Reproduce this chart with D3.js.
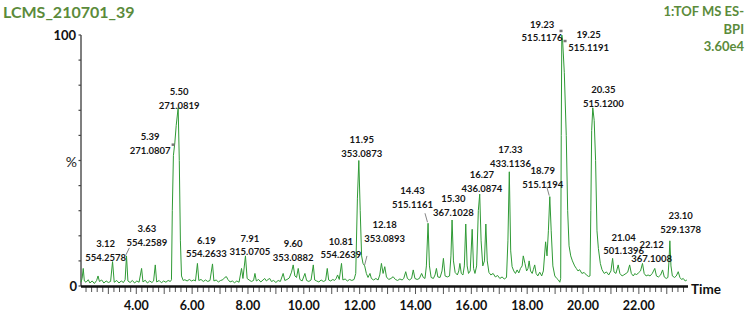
<!DOCTYPE html>
<html>
<head>
<meta charset="utf-8">
<script src="https://cdn.jsdelivr.net/npm/d3@7"></script>
<style>
	body { margin: 0; background: #fff; }
	svg { display: block; font-family: Lato, "Open Sans", sans-serif; }
</style>
</head>
<body>
<div id="chart"></div>
<script>
// Base peak intensity trace, [retention time (min), % of max]
const trace = [
	[2.02,1.5],[2.06,3],[2.10,7],[2.14,2],[2.20,1.5],[2.28,2.5],[2.34,1.2],[2.42,2],[2.50,1],[2.58,2.2],
	[2.63,4],[2.68,1.8],[2.76,2.4],[2.84,1.2],[2.92,2],[3.00,1.4],[3.08,1.8],[3.15,9.7],[3.21,1.5],[3.30,2.2],
	[3.38,1.2],[3.46,2],[3.54,1.4],[3.60,2.5],[3.65,12],[3.70,2],[3.78,1.4],[3.86,2.2],[3.94,1.2],[4.02,2],
	[4.10,1.5],[4.19,7],[4.24,1.6],[4.32,2.3],[4.40,1.2],[4.48,2],[4.56,1.4],[4.62,2],[4.68,8.4],[4.73,1.6],
	[4.82,2.2],[4.90,1.3],[4.98,2],[5.06,1.5],[5.14,2.2],[5.22,1.8],[5.26,2.5],[5.29,30],[5.33,52],[5.38,57],
	[5.43,64],[5.50,71],[5.54,50],[5.58,18],[5.62,4],[5.68,2.2],[5.74,2.5],[5.82,2],[5.90,2.6],[5.98,2],
	[6.06,2.4],[6.12,2],[6.19,9],[6.24,2.2],[6.32,2.6],[6.40,1.8],[6.48,2.4],[6.56,1.8],[6.64,2.2],[6.73,8.8],
	[6.78,2],[6.86,2.4],[6.94,1.6],[7.02,2.2],[7.10,2.5],[7.18,3.5],[7.23,3.7],[7.28,2.6],[7.36,1.6],[7.44,2],
	[7.52,1.3],[7.60,2],[7.68,1.5],[7.77,7],[7.82,3],[7.91,12],[7.97,3],[8.04,2.4],[8.12,1.8],[8.20,2.2],
	[8.25,5],[8.30,2],[8.38,2.6],[8.46,1.6],[8.54,2.4],[8.60,3],[8.66,2],[8.72,2.6],[8.78,3],[8.84,1.8],
	[8.92,2.2],[9.00,1.4],[9.08,2.2],[9.16,1.8],[9.26,5],[9.32,2.2],[9.40,2.6],[9.48,3.2],[9.56,5.5],[9.62,8.4],
	[9.68,4],[9.74,3.4],[9.80,7],[9.86,2.6],[9.94,2],[10.04,5],[10.10,2.2],[10.18,1.8],[10.26,2.4],[10.34,8.4],
	[10.39,2.4],[10.46,2],[10.54,1.6],[10.62,2.4],[10.70,1.8],[10.78,2.2],[10.84,7],[10.89,2.4],[10.96,2],[11.04,2.6],
	[11.10,2.2],[11.16,3],[11.21,4.4],[11.27,2.6],[11.35,9],[11.40,2.4],[11.48,2.8],[11.56,2],[11.64,2.6],[11.72,2.2],
	[11.80,2.6],[11.86,5],[11.92,35],[11.97,50],[12.02,30],[12.07,12],[12.12,9],[12.18,8],[12.24,5],[12.30,3.4],
	[12.37,5],[12.42,3],[12.50,2.4],[12.58,3],[12.66,2.4],[12.72,4.4],[12.78,9],[12.84,5],[12.90,7.7],[12.96,3.6],
	[13.04,2.6],[13.12,3],[13.20,3.7],[13.28,2.6],[13.36,2.2],[13.44,2.8],[13.52,2.4],[13.58,3],[13.65,5.7],[13.71,3],
	[13.78,2.4],[13.86,3],[13.92,6.4],[13.98,3],[14.06,2.6],[14.14,3],[14.22,5],[14.28,3.4],[14.34,3],[14.39,8],
	[14.45,25],[14.50,8],[14.56,3.4],[14.64,3],[14.70,4.4],[14.75,7],[14.80,3.6],[14.88,3.4],[14.95,6],[15.00,11],
	[15.06,4],[15.14,3.6],[15.22,4],[15.27,12],[15.31,26.3],[15.36,10],[15.42,5.4],[15.50,4.4],[15.55,6],[15.59,9],
	[15.64,5],[15.70,4.4],[15.75,8],[15.80,24.7],[15.85,8],[15.90,5],[15.96,6],[16.03,22.6],[16.08,7],[16.13,5],
	[16.19,8],[16.25,30],[16.30,36.6],[16.35,18],[16.41,8],[16.47,10],[16.52,24.7],[16.57,10],[16.63,5.4],[16.70,4.4],
	[16.78,5],[16.86,3.6],[16.94,4.2],[17.02,3],[17.10,3.6],[17.18,2.8],[17.26,3.4],[17.31,18],[17.36,45.5],[17.41,14],
	[17.46,7.7],[17.52,6],[17.58,5],[17.64,6.4],[17.70,5.2],[17.76,7],[17.82,8],[17.86,12],[17.92,9],[17.98,6],
	[18.03,7],[18.07,10],[18.12,6],[18.18,5],[18.22,6.5],[18.27,8.4],[18.32,5],[18.38,4],[18.45,5.5],[18.52,4],
	[18.58,6],[18.66,17.6],[18.71,12],[18.76,22],[18.81,35.6],[18.86,22],[18.92,8],[18.99,4],[19.06,3],[19.12,2.4],
	[19.17,1.5],[19.20,3],[19.22,60],[19.24,100],[19.27,97.7],[19.33,85],[19.40,60],[19.45,30],[19.50,16],[19.56,12],
	[19.62,10],[19.70,8],[19.76,7],[19.82,6],[19.88,6.5],[19.96,5],[20.04,5.4],[20.12,4.4],[20.20,3.8],[20.25,4],
	[20.28,30],[20.31,62],[20.35,71],[20.40,66],[20.45,50],[20.50,22],[20.55,15],[20.62,9],[20.68,6.5],[20.76,5],
	[20.84,5.6],[20.92,4.4],[21.00,6],[21.06,11],[21.11,5.6],[21.18,5],[21.26,8.4],[21.32,5],[21.40,4],[21.46,4.4],
	[21.54,5],[21.60,5.5],[21.67,8.4],[21.73,5],[21.80,4],[21.86,5],[21.91,4.4],[21.98,5.2],[22.06,6],[22.13,9],
	[22.19,5],[22.26,4],[22.33,4.4],[22.40,4],[22.48,5],[22.57,7],[22.63,4],[22.70,3.6],[22.78,4.4],[22.85,6.4],
	[22.91,3.6],[22.98,3],[23.04,3.4],[23.08,10],[23.11,18],[23.15,8],[23.20,4],[23.28,3.4],[23.34,4],[23.41,5.7],
	[23.47,3.4],[23.53,2.6],[23.59,3],[23.66,2],[23.72,2.4]
];

// Annotated peaks
const peakRT = ['3.12','3.63','5.39','5.50','6.19','7.91','9.60','10.81','11.95','12.18','14.43',
	'15.30','16.27','17.33','18.79','19.23','19.25','20.35','21.04','22.12','23.10'];
const peakMZ = ['554.2578','554.2589','271.0807','271.0819','554.2633','315.0705','353.0882','554.2639',
	'353.0873','353.0893','515.1161','367.1028','436.0874','433.1136','515.1194','515.1176','515.1191',
	'515.1200','501.1396','367.1008','529.1378'];
const peakPct = [9.7,12,57,71,9,12,8.4,7,50,8,25,26.3,36.6,45.5,35.6,100,97.7,71,11,9,18];

const xTicks = [4,6,8,10,12,14,16,18,20,22];
const yTicks = [0,10,20,30,40,50,60,70,80,90,100];

const title = 'LCMS_210701_39';
const infoLines = ['1:TOF MS ES-', 'BPI', '3.60e4'];

// Layout for the annotations: label centre offset from apex, leaders, apex markers
const labelOffsets = [[-6,-18],[21,-27],[-25,-6],[1,-16],[9,-23],[4.5,-17.5],[0.5,-21],[14.5,-27],
	[3.5,-21],[20,-41],[-15,-32.5],[1.5,-21],[3,-19],[2,-22],[-6.5,-26],[-19.5,-10.7],[26.5,-6.5],
	[10.5,-18],[11.5,-21],[9.5,-18.5],[11,-25]];
const leaders = { '3.63': [3.4,-8], '12.18': [2.3,-10], '14.43': [-2.5,-10], '18.79': [-2.5,-10] };
const apexMarks = { '5.39': [-2,1.5], '19.23': [-0.5,-4.3], '19.25': [3,0] };

const width = 748, height = 316;
const margin = { left: 81, right: 60, top: 35, bottom: 30 };
const green = '#5b8b3b';

const svg = d3.select('#chart').append('svg')
	.attr('width', width)
	.attr('height', height);

const x = d3.scaleLinear().domain([2.02, 23.76]).range([margin.left, width - margin.right]);
const y = d3.scaleLinear().domain([0, 100]).range([height - margin.top + 5, margin.top]);

// Title and acquisition info
svg.append('text')
	.attr('x', 3).attr('y', 18)
	.attr('fill', green)
	.style('font-size', '16px').style('font-weight', 'bold')
	.text(title);

svg.selectAll('text.info')
	.data(infoLines)
	.enter().append('text')
	.attr('class', 'info')
	.attr('x', 744)
	.attr('y', (d, i) => 16 + i * 17.5)
	.attr('text-anchor', 'end')
	.attr('fill', green)
	.style('font-size', '13px').style('font-weight', 'bold')
	.text(d => d);

// Y axis
svg.append('line')
	.attr('x1', x.range()[0]).attr('x2', x.range()[0])
	.attr('y1', y(100)).attr('y2', y(0))
	.attr('stroke', '#555').attr('stroke-width', 1.5);

svg.selectAll('line.ytick')
	.data(yTicks)
	.enter().append('line')
	.attr('class', 'ytick')
	.attr('x1', x.range()[0] - 2.5).attr('x2', x.range()[0])
	.attr('y1', d => y(d)).attr('y2', d => y(d))
	.attr('stroke', '#444').attr('stroke-width', 1.2);

svg.append('text').attr('x', 76).attr('y', y(100) + 4.5)
	.attr('text-anchor', 'end').style('font-size', '13px').style('font-weight', 'bold')
	.attr('fill', '#111').text('100');
svg.append('text').attr('x', 77).attr('y', y(50) + 6)
	.attr('text-anchor', 'end').style('font-size', '14px')
	.attr('fill', '#222').text('%');
svg.append('text').attr('x', 77).attr('y', y(0) + 4.5)
	.attr('text-anchor', 'end').style('font-size', '13px').style('font-weight', 'bold')
	.attr('fill', '#111').text('0');

// X axis, minor ticks every 0.2 min
const minorTicks = d3.range(11, 119).map(i => i / 5).filter(t => t > x.domain()[0] && t < x.domain()[1]);
svg.selectAll('line.xtick')
	.data(minorTicks)
	.enter().append('line')
	.attr('class', 'xtick')
	.attr('x1', d => x(d)).attr('x2', d => x(d))
	.attr('y1', y(0))
	.attr('y2', d => y(0) + (Math.abs(d - Math.round(d)) < 1e-6 ? 8 : 6))
	.attr('stroke', '#555').attr('stroke-width', 1);

svg.selectAll('text.xlabel')
	.data(xTicks)
	.enter().append('text')
	.attr('class', 'xlabel')
	.attr('x', d => x(d))
	.attr('y', 310)
	.attr('text-anchor', 'middle')
	.attr('fill', '#111')
	.style('font-size', '12.5px').style('font-weight', 'bold')
	.text(d => d.toFixed(2));

svg.append('text').attr('x', x.range()[1] + 3).attr('y', y(0) + 8)
	.attr('fill', '#111').style('font-size', '13.5px').style('font-weight', 'bold')
	.text('Time');

// Chromatogram trace
const line = d3.line()
	.x(d => x(d[0]))
	.y(d => y(d[1]));

svg.append('path')
	.datum(trace)
	.attr('fill', 'none')
	.attr('stroke', '#2f9a35')
	.attr('stroke-width', 1)
	.attr('stroke-linejoin', 'round')
	.attr('d', line);

svg.append('line')
	.attr('x1', x.range()[0]).attr('x2', x.range()[1])
	.attr('y1', y(0) + 0.5).attr('y2', y(0) + 0.5)
	.attr('stroke', '#111').attr('stroke-width', 2.5);

// Peak annotations
const peaks = peakRT.map((rt, i) => ({
	rt, mz: peakMZ[i], pct: peakPct[i], off: labelOffsets[i]
}));

const labels = svg.selectAll('g.peak-label')
	.data(peaks)
	.enter().append('g')
	.attr('class', 'peak-label')
	.attr('transform', d => `translate(${x(+d.rt) + d.off[0]}, ${y(d.pct) + d.off[1]})`);

labels.append('text')
	.attr('text-anchor', 'middle').attr('dy', '0.35em')
	.attr('fill', '#161616').style('font-size', '9.5px').style('font-weight', 'bold')
	.text(d => d.rt);
labels.append('text')
	.attr('text-anchor', 'middle').attr('y', 13.7).attr('dy', '0.35em')
	.attr('fill', '#161616').style('font-size', '9.5px').style('font-weight', 'bold')
	.text(d => d.mz);

svg.selectAll('line.leader')
	.data(peaks.filter(d => leaders[d.rt]))
	.enter().append('line')
	.attr('class', 'leader')
	.attr('x1', d => x(+d.rt)).attr('y1', d => y(d.pct) - 1)
	.attr('x2', d => x(+d.rt) + leaders[d.rt][0]).attr('y2', d => y(d.pct) + leaders[d.rt][1])
	.attr('stroke', '#666').attr('stroke-width', 0.8);

svg.selectAll('rect.apex')
	.data(peaks.filter(d => apexMarks[d.rt]))
	.enter().append('rect')
	.attr('class', 'apex')
	.attr('x', d => x(+d.rt) + apexMarks[d.rt][0] - 1.5)
	.attr('y', d => y(d.pct) + apexMarks[d.rt][1] - 1)
	.attr('width', 3).attr('height', 2.5)
	.attr('fill', '#777');
</script>
</body>
</html>
